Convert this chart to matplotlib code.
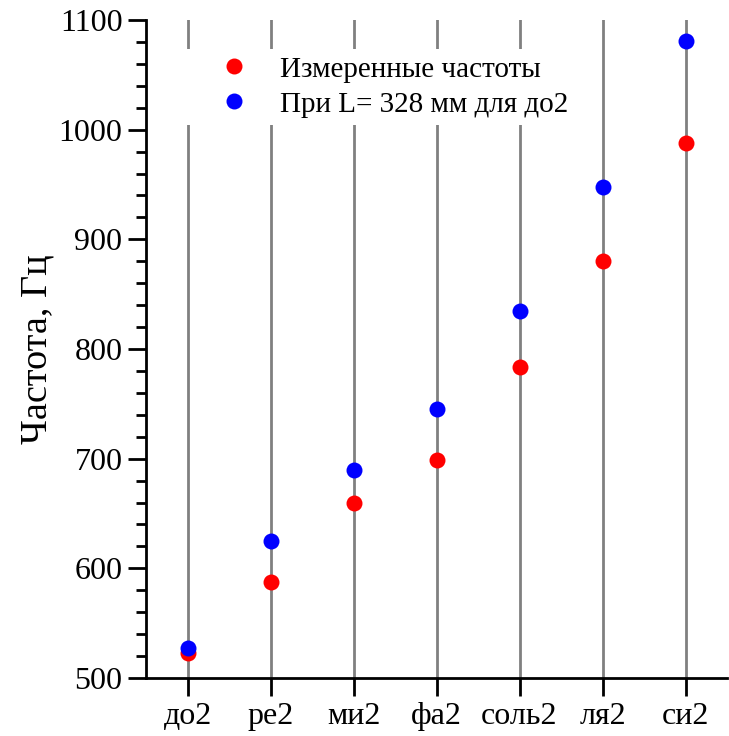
import matplotlib
matplotlib.use("Agg")
import matplotlib.pyplot as plt
from matplotlib.ticker import MultipleLocator

categories = ["до2", "ре2", "ми2", "фа2", "соль2", "ля2", "си2"]
measured = [523, 587.5, 659.5, 698.5, 784, 880, 988]
calculated = [527, 625, 690, 745, 835, 948, 1081]
yticks = [500, 600, 700, 800, 900, 1000, 1100]

plt.rcParams['font.family'] = ['Liberation Serif', 'DejaVu Serif']

fig = plt.figure(figsize=(7.29, 7.36), dpi=100)
ax = fig.add_axes([146/729, 58/736, (727-146)/729, (678-20)/736])

x = list(range(len(categories)))
ax.plot(x, measured, 'o', color='#ff0000', ms=11.5, mec='none', label='Измеренные частоты', zorder=3)
ax.plot(x, calculated, 'o', color='#0000ff', ms=11.5, mec='none', label='При L= 328 мм для до2', zorder=3)

ax.set_xlim(-0.5, 6.5)
ax.set_ylim(500, 1100)
ax.set_xticks(x)
ax.set_xticklabels(categories)
ax.set_yticks(yticks)
ax.yaxis.set_minor_locator(MultipleLocator(20))
ax.xaxis.grid(True, color='#808080', lw=2)
ax.set_axisbelow(True)

for s in ['top', 'right']:
    ax.spines[s].set_visible(False)
for s in ['left', 'bottom']:
    ax.spines[s].set_linewidth(2)
ax.tick_params(axis='both', which='major', direction='out', length=13, width=2, labelsize=23, pad=4)
ax.tick_params(axis='y', which='minor', direction='out', length=7, width=2)
ax.set_ylabel('Частота, Гц', fontsize=27.5, labelpad=3)

leg = ax.legend(loc='upper left', bbox_to_anchor=(0.063, 0.956), borderaxespad=0, fontsize=21,
                frameon=True, fancybox=False, edgecolor='none', facecolor='white', framealpha=1,
                handletextpad=0.085, borderpad=0.25, labelspacing=0.29, handlelength=3.0)

fig.savefig('out.png', dpi=100)
